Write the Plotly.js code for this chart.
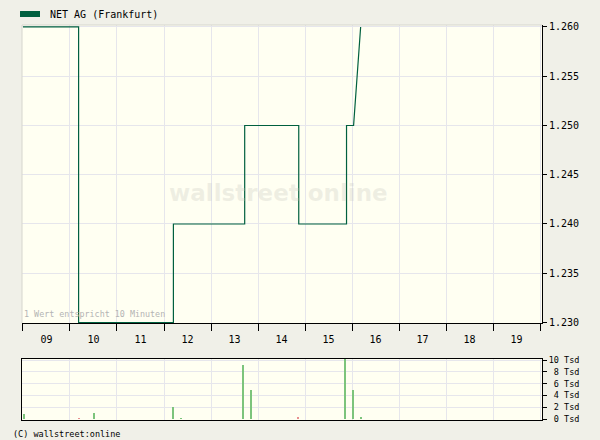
<!DOCTYPE html>
<html>
<head>
<meta charset="utf-8">
<script src="https://cdn.plot.ly/plotly-3.0.1.min.js"></script>
<style>
html,body{margin:0;padding:0;background:#f0f0e8;}
#chart{width:600px;height:440px;}
</style>
</head>
<body>
<div id="chart"></div>
<script>
// ---- data ----
var DAY = "2024-01-15 ";
var priceTimes = ["09:00","10:11","10:11","12:12","12:12","13:43","13:43","14:52","14:52","15:53","15:53","16:02","16:11"];
var prices     = [1.260, 1.260, 1.230, 1.230, 1.240, 1.240, 1.250, 1.250, 1.240, 1.240, 1.250, 1.250, 1.260];

var volTimes = ["09:00","10:10","10:30","12:10","12:20","13:40","13:50","14:50","15:50","16:00","16:10"];
var volTsd   = [0.8, 0.2, 1.1, 2.1, 0.2, 9.1, 5.0, 0.3, 12.0, 5.0, 0.4];
var volDown  = [false, true, false, false, false, false, false, true, false, false, false];

var yTicks = [1.230, 1.235, 1.240, 1.245, 1.250, 1.255, 1.260];
var volTicks = [0, 2, 4, 6, 8, 10];
var volTickText = ["\u00a00 Tsd","\u00a02 Tsd","\u00a04 Tsd","\u00a06 Tsd","\u00a08 Tsd","10 Tsd"];
var seriesName = "NET AG (Frankfurt)";

// ---- styling ----
var LINE = "#00603f";
var GRID = "#e6e6ec";
var MONO = "DejaVu Sans Mono, monospace";
var UP = "#7cc47c", DOWN = "#e89090";

function t(s){ return DAY + s; }

var priceTrace = {
  x: priceTimes.map(t), y: prices, type: "scatter", mode: "lines",
  line: {color: LINE, width: 1.2, shape: "linear"},
  xaxis: "x", yaxis: "y", showlegend: false, hoverinfo: "skip"
};
var volTrace = {
  x: volTimes.map(t), y: volTsd, type: "bar",
  marker: {color: volDown.map(function(d){ return d ? DOWN : UP; }), line: {width: 0}},
  width: 150000, offset: 0,
  xaxis: "x2", yaxis: "y2", showlegend: false, hoverinfo: "skip"
};

var xRange = [t("08:58:45"), t("20:02:30")];

var layout = {
  width: 600, height: 440,
  paper_bgcolor: "#f0f0e8", plot_bgcolor: "#fffff2",
  margin: {l: 22, r: 58, t: 25, b: 20},
  font: {family: MONO, size: 10, color: "#000"},
  bargap: 0,
  xaxis: {
    type: "date", range: xRange, domain: [0, 1], anchor: "y",
    tick0: t("09:00"), dtick: 3600000, tickformat: "%H", ticklabelmode: "period",
    ticks: "outside", ticklen: 7, tickcolor: "#000", tickwidth: 1,
    showgrid: true, gridcolor: GRID, gridwidth: 1,
    showline: true, linecolor: "#000", linewidth: 1,
    zeroline: false, fixedrange: true,
    tickfont: {family: MONO, size: 10, color: "#000"}
  },
  yaxis: {
    domain: [0.2456, 1], range: [1.22995, 1.2602], side: "right", anchor: "x",
    tickvals: yTicks, tickformat: ".3f",
    ticks: "outside", ticklen: 4, tickcolor: "#000",
    showgrid: true, gridcolor: GRID, gridwidth: 1,
    showline: true, linecolor: "#000", linewidth: 1,
    zeroline: false, fixedrange: true,
    tickfont: {family: MONO, size: 10, color: "#000"}
  },
  xaxis2: {
    type: "date", range: xRange, domain: [0, 1], anchor: "y2", matches: "x",
    tick0: t("09:00"), dtick: 3600000,
    showticklabels: false, ticks: "",
    showgrid: true, gridcolor: GRID, gridwidth: 1,
    showline: true, mirror: true, linecolor: "#000", linewidth: 1,
    zeroline: false, fixedrange: true
  },
  yaxis2: {
    domain: [0, 0.1544], range: [-0.15, 10.18], side: "right", anchor: "x2",
    tickvals: volTicks, ticktext: volTickText,
    ticks: "outside", ticklen: 4, tickcolor: "#000",
    showgrid: true, gridcolor: GRID, gridwidth: 1,
    showline: true, mirror: true, linecolor: "#000", linewidth: 1,
    zeroline: false, fixedrange: true,
    tickfont: {family: MONO, size: 8.5, color: "#000"}
  },
  shapes: [
    {type: "line", xref: "x domain", yref: "y domain", x0: 0, x1: 1, y0: 1, y1: 1,
     line: {color: "#d6d6ce", width: 1}},
    {type: "line", xref: "x domain", yref: "y domain", x0: 0, x1: 0, y0: 0, y1: 1,
     line: {color: "#d6d6ce", width: 1}},
    {type: "rect", xref: "paper", yref: "paper", xsizemode: "pixel", ysizemode: "pixel",
     xanchor: -0.0038, yanchor: 1.0278, x0: 0, x1: 20, y0: -3, y1: 3,
     fillcolor: LINE, line: {width: 0}}
  ],
  annotations: [
    {text: seriesName, xref: "paper", yref: "paper", x: 0.0500, y: 1.0278,
     xanchor: "left", yanchor: "middle", showarrow: false,
     font: {family: MONO, size: 10, color: "#000"}},
    {text: "1 Wert entspricht 10 Minuten", xref: "x domain", yref: "y domain", x: 0, y: 0.005,
     xanchor: "left", yanchor: "bottom", showarrow: false,
     font: {family: MONO, size: 8.4, color: "#b4b4b4"}},
    {text: "(C) wallstreet:online", xref: "paper", yref: "paper", x: -0.021, y: -0.035,
     xanchor: "left", yanchor: "middle", showarrow: false,
     font: {family: MONO, size: 8.5, color: "#000"}},
    {text: "<b>wallstreet online</b>", xref: "x domain", yref: "y domain", x: 0.494, y: 0.436,
     xanchor: "center", yanchor: "middle", showarrow: false,
     font: {family: "DejaVu Sans, sans-serif", size: 23, color: "rgba(190,190,180,0.25)"}}
  ]
};

Plotly.newPlot("chart", [volTrace, priceTrace], layout, {staticPlot: true, displayModeBar: false});
</script>
</body>
</html>
